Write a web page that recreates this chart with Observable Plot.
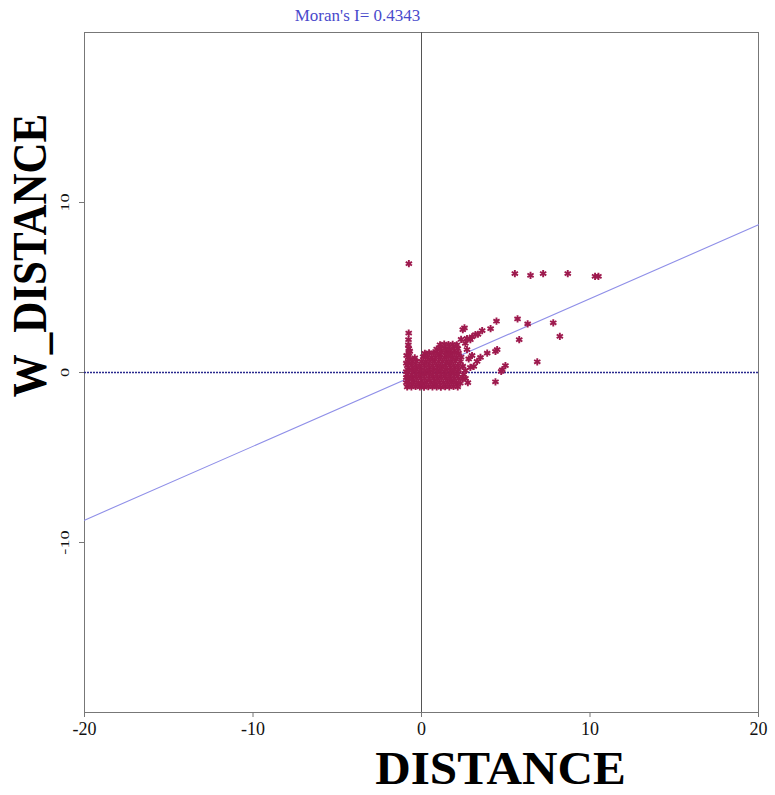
<!DOCTYPE html>
<html>
<head>
<meta charset="utf-8">
<script src="https://cdn.jsdelivr.net/npm/d3@7"></script>
<script src="https://cdn.jsdelivr.net/npm/@observablehq/plot@0.6"></script>
<style>
  html, body { margin: 0; padding: 0; background: #ffffff; }
  #chart svg { display: block; }
</style>
</head>
<body>
<div id="chart"></div>
<script>
// ---- data ----
const xTicks = [-20, -10, 0, 10, 20];
const yTicks = [-10, 0, 10];
const moranI = 0.4343;
const subtitle = "Moran's I= 0.4343";
const xLabel = "DISTANCE";
const yLabel = "W_DISTANCE";

// dense cluster near the origin: [DISTANCE, W_DISTANCE]
const clusterPoints = [
  [-0.85,-0.85],[-0.6,-0.85],[-0.35,-0.82],[-0.1,-0.85],[0.15,-0.86],[0.4,-0.83],[0.65,-0.85],[0.9,-0.84],[1.15,-0.86],[1.4,-0.83],[1.65,-0.85],[1.9,-0.82],[2.15,-0.84],
  [-0.9,-0.6],[-0.7,-0.62],[-0.45,-0.58],[-0.2,-0.6],[0.05,-0.63],[0.3,-0.59],[0.55,-0.6],[0.8,-0.62],[1.05,-0.58],[1.3,-0.6],[1.55,-0.61],[1.8,-0.57],[2.05,-0.6],[2.3,-0.62],
  [-0.8,-0.35],[-0.55,-0.36],[-0.3,-0.33],[-0.05,-0.35],[0.2,-0.37],[0.45,-0.34],[0.7,-0.35],[0.95,-0.36],[1.2,-0.33],[1.45,-0.35],[1.7,-0.36],[1.95,-0.34],[2.2,-0.35],[2.45,-0.38],
  [-0.85,-0.1],[-0.6,-0.12],[-0.35,-0.09],[-0.1,-0.1],[0.15,-0.11],[0.4,-0.08],[0.65,-0.1],[0.9,-0.12],[1.15,-0.09],[1.4,-0.1],[1.65,-0.11],[1.9,-0.08],[2.15,-0.1],[2.5,-0.12],
  [-0.8,0.15],[-0.55,0.14],[-0.3,0.16],[-0.05,0.15],[0.2,0.13],[0.45,0.16],[0.7,0.15],[0.95,0.14],[1.2,0.16],[1.45,0.15],[1.7,0.13],[1.95,0.16],[2.2,0.15],[2.6,0.12],
  [-0.85,0.4],[-0.6,0.41],[-0.35,0.38],[-0.1,0.4],[0.15,0.42],[0.4,0.39],[0.65,0.4],[0.9,0.41],[1.15,0.38],[1.4,0.4],[1.65,0.42],[1.9,0.39],[2.15,0.4],[2.45,0.37],
  [-0.8,0.65],[-0.55,0.63],[-0.3,0.66],[0.0,0.65],[0.25,0.64],[0.5,0.67],[0.75,0.65],[1.0,0.63],[1.25,0.66],[1.5,0.65],[1.75,0.64],[2.0,0.66],[2.3,0.63],
  [-0.78,0.9],[-0.4,0.86],[0.1,0.92],[0.35,0.9],[0.6,0.88],[0.85,0.91],[1.1,0.9],[1.35,0.88],[1.6,0.92],[1.85,0.9],[2.1,0.88],[2.35,0.91],
  [-0.75,1.15],[0.2,1.12],[0.45,1.16],[0.7,1.15],[0.95,1.13],[1.2,1.17],[1.45,1.15],[1.7,1.12],[1.95,1.16],[2.2,1.14],
  [-0.76,1.4],[0.9,1.38],[1.15,1.42],[1.4,1.4],[1.65,1.37],[1.9,1.41],[2.15,1.4],
  [1.1,1.63],[1.35,1.67],[1.6,1.64],[1.85,1.66],[2.1,1.62],
  [-0.78,1.62],[-0.77,1.93],[-0.76,2.32],[-0.9,0.05],[-0.9,0.55],[-0.9,-0.3],[-0.88,1.0],[-0.7,1.25],[-0.7,0.78]
];

// tails and outliers: [DISTANCE, W_DISTANCE]
const outlierPoints = [
  [2.45,2.52],[2.55,2.62],[2.9,1.93],[3.2,2.23],[3.35,2.25],[3.6,2.47],[4.1,2.58],[4.45,3.02],[2.7,2.0],[3.0,2.1],[2.35,1.95],[2.6,1.72],
  [3.3,0.65],[3.5,0.89],[3.9,1.14],[4.39,1.24],[4.49,1.34],[3.1,0.36],[2.61,-0.34],[2.9,0.3],[2.8,0.8],[3.0,1.0],[4.98,0.41],[4.79,0.16],[4.39,-0.55],[4.73,0.06],[2.75,-0.6],[2.7,1.35],
  [-0.75,6.4],[5.54,5.82],[6.47,5.72],[7.22,5.82],[8.68,5.82],[10.3,5.66],[10.5,5.66],
  [5.7,3.15],[6.3,2.86],[7.82,2.92],[8.21,2.13],[5.8,1.93],[6.87,0.63]
];

const allPoints = clusterPoints.concat(outlierPoints);
const lineXs = [-20, 20];

const pointColor = "#9e1a4e";

const chart = Plot.plot({
  width: 775,
  height: 795,
  marginTop: 32,
  marginBottom: 83,
  marginLeft: 84,
  marginRight: 17,
  style: { fontFamily: "Liberation Serif, serif", background: "#ffffff", color: "#111" },
  x: { domain: [-20, 20], axis: null },
  y: { domain: [-20, 20], axis: null },
  marks: [
    Plot.frame({ stroke: "#777", strokeWidth: 1 }),
    Plot.ruleX([0], { stroke: "#555", strokeWidth: 1 }),
    Plot.ruleY([0], { stroke: "#2a2a8e", strokeWidth: 1.6, strokeDasharray: "2,1" }),
    Plot.line(lineXs, { x: d => d, y: d => moranI * d, stroke: "#8f8fe8", strokeWidth: 1.1 }),
    Plot.dot(allPoints, { x: d => d[0], y: d => d[1], symbol: "asterisk", r: 3.4, stroke: pointColor, strokeWidth: 1.9 }),
    Plot.axisX({ ticks: xTicks, tickSize: 5, tickPadding: 5, tickFormat: d => String(d), fontSize: 18, anchor: "bottom", label: null, stroke: "#777" }),
    Plot.axisY({ ticks: yTicks, tickSize: 5, tickFormat: () => "", anchor: "left", label: null, stroke: "#777" }),
    Plot.text(yTicks, { y: d => d, frameAnchor: "left", dx: -20, rotate: -90, text: d => String(d), fontSize: 13, textAnchor: "middle", lineAnchor: "middle", fill: "#111" }),
    Plot.text([subtitle], { frameAnchor: "top", dx: -64, dy: -17, text: d => d, fontSize: 17, fill: "#4a4acc", lineAnchor: "middle", textAnchor: "middle" }),
    Plot.text([xLabel], { frameAnchor: "bottom", dx: 79, dy: 57, text: d => d, fontSize: 46, fontWeight: "bold", fill: "#000", lineAnchor: "middle", textAnchor: "middle" }),
    Plot.text([yLabel], { frameAnchor: "left", dx: -54, dy: -117, rotate: -90, text: d => d, fontSize: 43, fontWeight: "bold", fill: "#000", lineAnchor: "middle", textAnchor: "middle" })
  ]
});

document.getElementById("chart").appendChild(chart);

// stretch glyphs to mimic the reference's condensed serif lettering
function stretch(node, sx, sy) {
  const g = document.createElementNS("http://www.w3.org/2000/svg", "g");
  node.parentNode.insertBefore(g, node);
  g.appendChild(node);
  g.style.transformBox = "fill-box";
  g.style.transformOrigin = "center";
  g.style.transform = `scale(${sx},${sy})`;
}
const texts = Array.from(chart.querySelectorAll("text"));
texts.forEach(t => {
  const s = t.textContent;
  if (s === xLabel) stretch(t, 1.07, 1.0);
  else if (s === yLabel) stretch(t, 1.12, 1);
  else if (yTicks.map(String).includes(s) && t.getAttribute("transform") && t.getAttribute("transform").includes("rotate")) stretch(t, 1, 1.4);
});
</script>
</body>
</html>
